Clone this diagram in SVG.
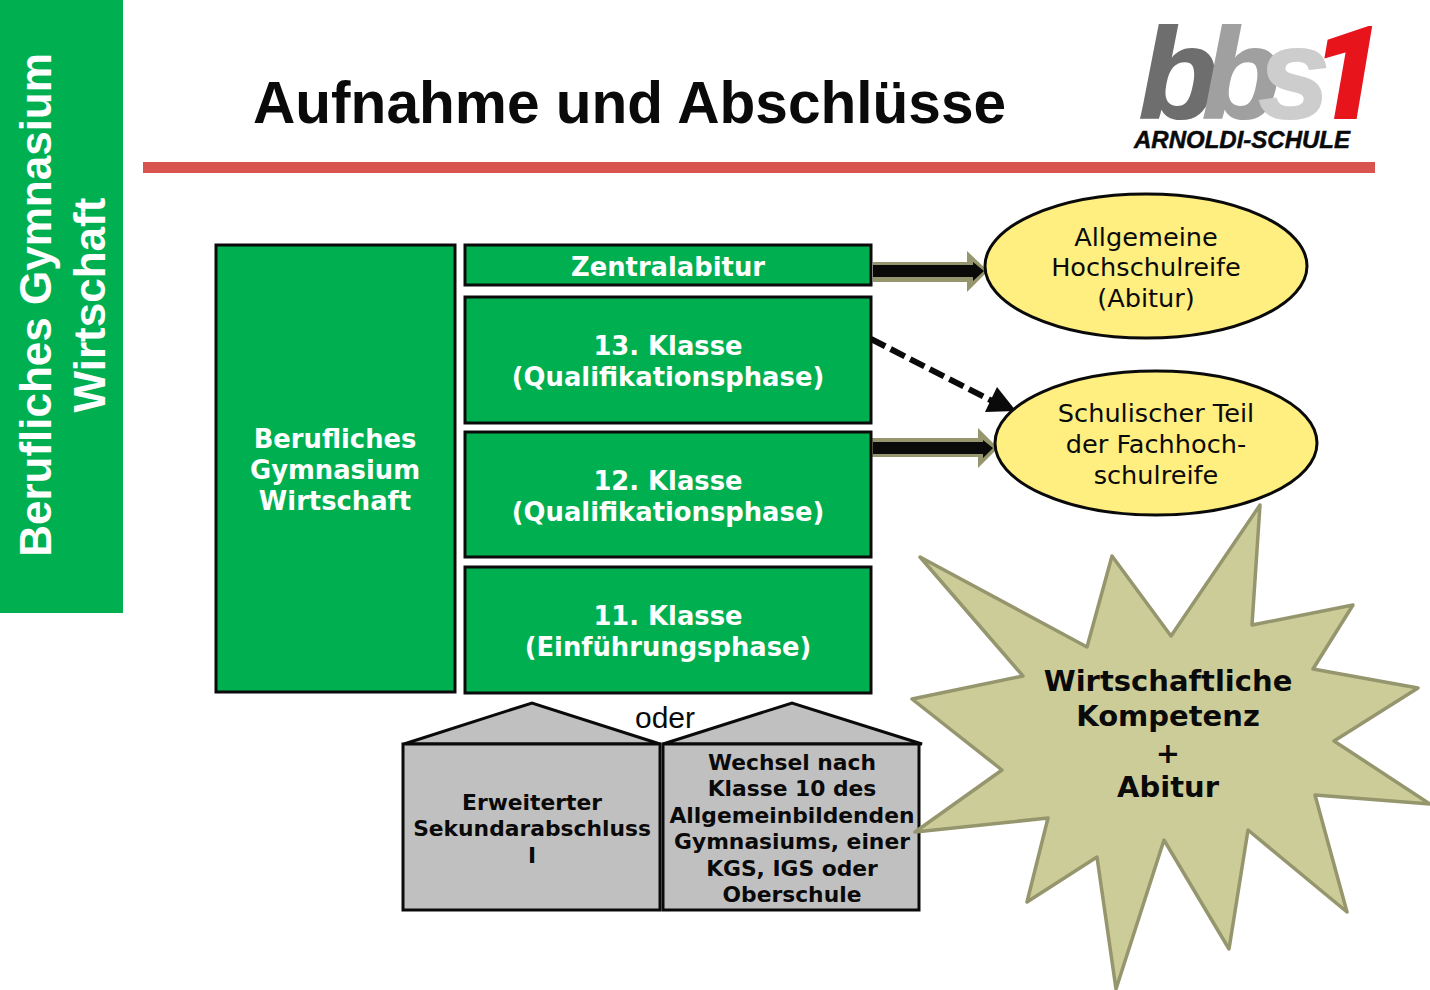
<svg xmlns="http://www.w3.org/2000/svg" width="1430" height="990" viewBox="0 0 1430 990">
<style>
.g{fill:#00B050;stroke:#0a0a0a;stroke-width:3}
.w{font:bold 25.8px "DejaVu Sans",Verdana,sans-serif;fill:#fff;text-anchor:middle}
.k{font:bold 21.8px "DejaVu Sans",Verdana,sans-serif;fill:#0a0a0a;text-anchor:middle}
.e{font:25.6px "DejaVu Sans",Verdana,sans-serif;fill:#0a0a0a;text-anchor:middle}
.s{font:bold 29px "DejaVu Sans",Verdana,sans-serif;fill:#0a0a0a;text-anchor:middle}
.h{fill:#C0C0C0;stroke:#0a0a0a;stroke-width:3}
.y{fill:#FFEE80;stroke:#0a0a0a;stroke-width:3}
.o{fill:#96966E}
.b{fill:#0a0a0a}
.l{font-family:"Liberation Sans",Arial,sans-serif;font-weight:bold;font-style:italic}
.a{font-family:"Liberation Sans",Arial,sans-serif}
</style>
<rect width="1430" height="990" fill="#fff"/>
<g id="sidebar">
<rect x="0" y="0" width="123" height="613" fill="#00B050"/>
<text class="a" transform="translate(51 305) rotate(-90)" font-size="44" font-weight="bold" fill="#fff" text-anchor="middle">Berufliches Gymnasium</text>
<text class="a" transform="translate(105 305) rotate(-90)" font-size="44" font-weight="bold" fill="#fff" text-anchor="middle">Wirtschaft</text>
</g>
<g id="header">
<text class="a" x="253" y="123" font-size="58.6" font-weight="bold" fill="#0a0a0a">Aufnahme und Abschlüsse</text>
<rect x="143" y="162" width="1232" height="11" fill="#D9534F"/>
</g>
<g id="logo" class="l">
<text x="1139" y="118" font-size="128" stroke-width="2"><tspan fill="#6E6E6E" stroke="#6E6E6E">b</tspan><tspan dx="-15" fill="#A0A0A0" stroke="#A0A0A0">b</tspan><tspan dx="-22" fill="#CDCDCD" stroke="#CDCDCD">s</tspan><tspan dx="-18" font-family="Roboto,sans-serif" font-weight="900" fill="#E8141C" stroke="#E8141C">1</tspan></text>
<text x="1134" y="148" font-size="24" fill="#0a0a0a" stroke="#0a0a0a" stroke-width="0.5">ARNOLDI-SCHULE</text>
</g>
<g id="connectors">
<path class="o" d="M873 262H967V251L988 271L967 292V282H873Z"/>
<path class="b" d="M873 265H973V262L984 271L973 281V277H873Z"/>
<path class="o" d="M870 438H978V428L998 448L978 468V457H870Z"/>
<path class="b" d="M873 442H983V440L993 448L983 458V454H873Z"/>
<path d="M871 339L998 404" fill="none" stroke="#0a0a0a" stroke-width="6" stroke-dasharray="16 6"/>
<polygon class="b" points="1016,411 997,387 985,412"/>
</g>
<g id="beruflich"><rect class="g" x="216" y="245" width="239" height="447"/>
<text class="w" x="335" y="448">Berufliches</text><text class="w" x="335" y="479">Gymnasium</text><text class="w" x="335" y="510">Wirtschaft</text></g>
<g id="zentralabitur"><rect class="g" x="465" y="245" width="406" height="40"/>
<text class="w" x="668" y="276">Zentralabitur</text></g>
<g id="k13"><rect class="g" x="465" y="297" width="406" height="126"/>
<text class="w" x="668" y="355">13. Klasse</text><text class="w" x="668" y="386">(Qualifikationsphase)</text></g>
<g id="k12"><rect class="g" x="465" y="432" width="406" height="125"/>
<text class="w" x="668" y="490">12. Klasse</text><text class="w" x="668" y="521">(Qualifikationsphase)</text></g>
<g id="k11"><rect class="g" x="465" y="567" width="406" height="126"/>
<text class="w" x="668" y="625">11. Klasse</text><text class="w" x="668" y="656">(Einführungsphase)</text></g>
<g id="abitur"><ellipse class="y" cx="1146" cy="266" rx="161" ry="72"/>
<text class="e" x="1146" y="246">Allgemeine</text><text class="e" x="1146" y="276">Hochschulreife</text><text class="e" x="1146" y="307">(Abitur)</text></g>
<g id="fachhochschulreife"><ellipse class="y" cx="1156" cy="443" rx="161" ry="72"/>
<text class="e" x="1156" y="422">Schulischer Teil</text><text class="e" x="1156" y="453">der Fachhoch-</text><text class="e" x="1156" y="484">schulreife</text></g>
<g id="sekundar"><polygon class="h" points="404,744 532,703 660,744"/><rect class="h" x="403" y="744" width="257" height="166"/>
<text class="k" x="532" y="810">Erweiterter</text><text class="k" x="532" y="836">Sekundarabschluss</text><text class="k" x="532" y="863">I</text></g>
<g id="wechsel"><polygon class="h" points="663,744 792,703 922,744"/><rect class="h" x="663" y="744" width="256" height="166"/>
<text class="k" x="792" y="770">Wechsel nach</text><text class="k" x="792" y="796">Klasse 10 des</text><text class="k" x="792" y="823">Allgemeinbildenden</text><text class="k" x="792" y="849">Gymnasiums, einer</text><text class="k" x="792" y="876">KGS, IGS oder</text><text class="k" x="792" y="902">Oberschule</text></g>
<text class="a" x="665" y="728" font-size="30" fill="#0a0a0a" text-anchor="middle">oder</text>
<g id="star"><polygon fill="#CCCC99" stroke="#96966E" stroke-width="3.5" stroke-linejoin="round" points="920,557 1087,647 1112,556 1171,636 1260,505 1252,625 1353,605 1313,669 1418,688 1334,741 1430,804 1315,795 1347,912 1248,830 1229,949 1164,840 1116,989 1097,857 1027,902 1048,818 915,832 1002,770 912,699 1023,676"/>
<text class="s" x="1168" y="691">Wirtschaftliche</text><text class="s" x="1168" y="726">Kompetenz</text><text class="s" x="1168" y="763">+</text><text class="s" x="1168" y="797">Abitur</text></g>
</svg>
